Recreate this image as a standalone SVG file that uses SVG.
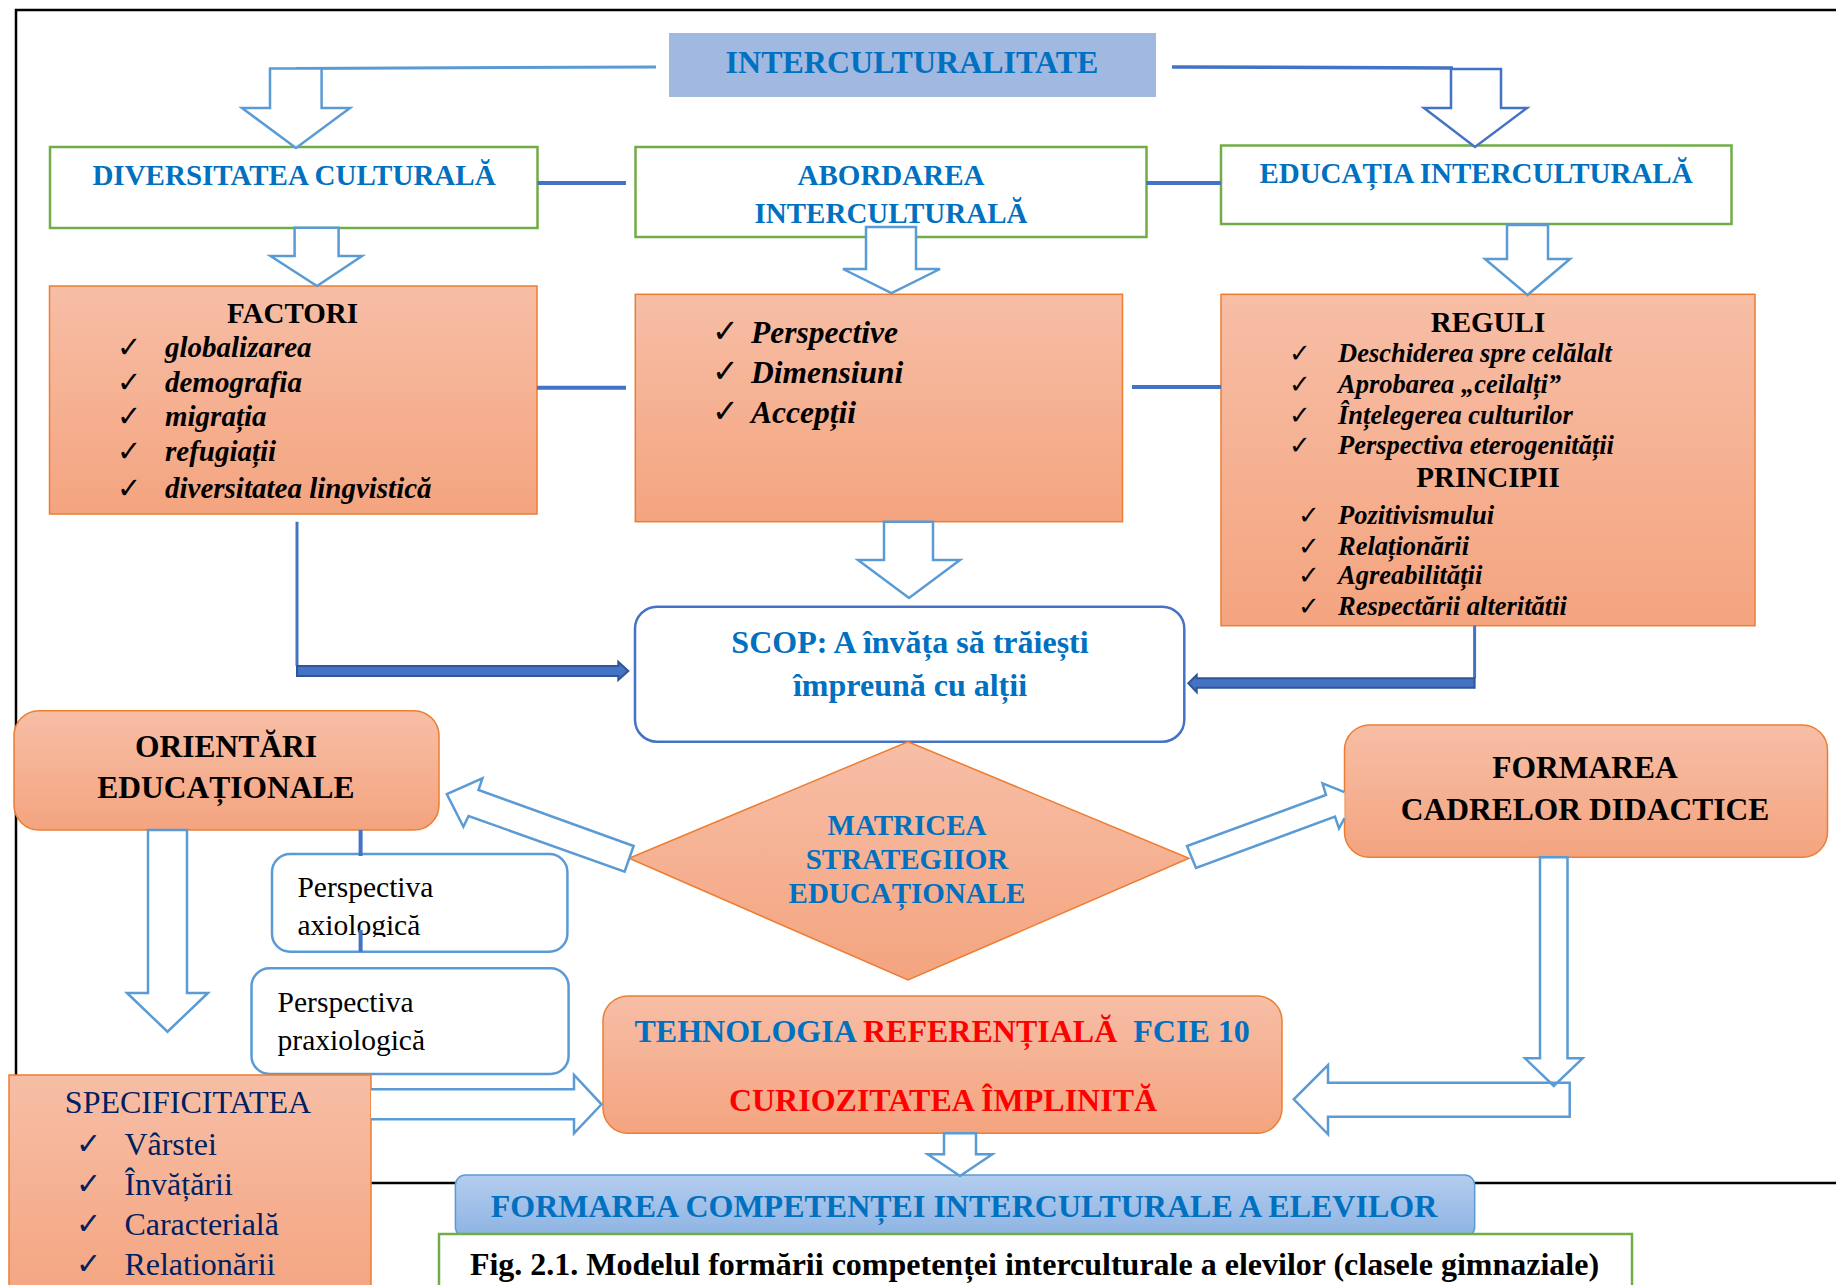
<svg xmlns="http://www.w3.org/2000/svg" width="1836" height="1285" viewBox="0 0 1836 1285">
<defs>
<linearGradient id="og" x1="0" y1="0" x2="0" y2="1">
<stop offset="0" stop-color="#F7BEA6"/>
<stop offset="1" stop-color="#F4A47F"/>
</linearGradient>
<linearGradient id="bg" x1="0" y1="0" x2="0" y2="1">
<stop offset="0" stop-color="#B4CDEF"/>
<stop offset="1" stop-color="#8DB3E2"/>
</linearGradient>
<clipPath id="clipReg"><rect x="1221" y="294" width="534" height="322"/></clipPath>
<clipPath id="clipAx"><rect x="272" y="854" width="296" height="83"/></clipPath>
<style>
text{font-family:"Liberation Serif","Times New Roman",serif;}
.bb{font-weight:bold;fill:#0070C0;}
.bk{font-weight:bold;fill:#000;}
.bi{font-weight:bold;font-style:italic;fill:#000;}
.rg{fill:#000;}
.nv{fill:#002060;}
.ck{font-family:"DejaVu Sans",sans-serif;font-weight:bold;fill:#000;}
.ckn{font-family:"DejaVu Sans",sans-serif;font-weight:bold;fill:#002060;}
.mid{text-anchor:middle;}
.gbox{fill:#fff;stroke:#70AD47;stroke-width:2.5;}
.obox{fill:url(#og);stroke:#ED7D31;stroke-width:1.5;}
.pbox{fill:#fff;stroke:#5B9BD5;stroke-width:2.5;}
.ln{stroke:#4472C4;stroke-width:4;fill:none;}
.ln3{stroke:#4472C4;stroke-width:3;fill:none;}
.ba{fill:#fff;stroke:#5B9BD5;stroke-width:2.5;stroke-linejoin:miter;}
.bn{fill:none;stroke:#5B9BD5;stroke-width:2.5;}
.th{fill:#4472C4;stroke:#2F5597;stroke-width:2;}
</style>
</defs>

<rect x="16" y="10" width="1900" height="1173" fill="none" stroke="#000" stroke-width="2.5"/>

<g id="n-interculturalitate">
<rect x="669" y="33" width="487" height="64" fill="#A1B8E1"/>
<text class="bb mid" x="912" y="72.5" font-size="32">INTERCULTURALITATE</text>
</g>

<g id="n-diversitatea">
<rect class="gbox" x="50" y="147" width="487.5" height="81"/>
<text class="bb mid" x="294" y="185" font-size="29">DIVERSITATEA CULTURALĂ</text>
</g>

<g id="n-abordarea">
<rect class="gbox" x="635.5" y="147" width="511" height="90"/>
<text class="bb mid" x="891" y="185" font-size="29">ABORDAREA</text>
<text class="bb mid" x="891" y="222.5" font-size="29">INTERCULTURALĂ</text>
</g>

<g id="n-educatia">
<rect class="gbox" x="1221" y="145.5" width="510.5" height="78.5"/>
<text class="bb mid" x="1476" y="183" font-size="29">EDUCAȚIA INTERCULTURALĂ</text>
</g>

<g id="n-factori">
<rect class="obox" x="49.5" y="286" width="487.5" height="228"/>
<text class="bk mid" x="292.5" y="323" font-size="29">FACTORI</text>
<text class="ck" x="117" y="357" font-size="29">✓</text>
<text class="ck" x="117" y="391.5" font-size="29">✓</text>
<text class="ck" x="117" y="425.5" font-size="29">✓</text>
<text class="ck" x="117" y="461" font-size="29">✓</text>
<text class="ck" x="117" y="497.5" font-size="29">✓</text>
<text class="bi" x="165" y="357" font-size="29">globalizarea</text>
<text class="bi" x="165" y="391.5" font-size="29">demografia</text>
<text class="bi" x="165" y="425.5" font-size="29">migrația</text>
<text class="bi" x="165" y="461" font-size="29">refugiații</text>
<text class="bi" x="165" y="497.5" font-size="29">diversitatea lingvistică</text>
</g>

<g id="n-abordare-continut">
<rect class="obox" x="635.3" y="294.3" width="487.2" height="227.4"/>
<text class="ck" x="712" y="342" font-size="32">✓</text>
<text class="ck" x="712" y="381.5" font-size="32">✓</text>
<text class="ck" x="712" y="421.5" font-size="32">✓</text>
<text class="bi" x="751" y="343" font-size="31.5">Perspective</text>
<text class="bi" x="751" y="382.5" font-size="31.5">Dimensiuni</text>
<text class="bi" x="751" y="422.5" font-size="31.5">Accepții</text>
</g>

<g id="n-reguli">
<rect class="obox" x="1221" y="294.3" width="534" height="331.4"/>
<text class="bk mid" x="1488" y="331.5" font-size="29">REGULI</text>
<text class="ck" x="1289" y="361.5" font-size="26">✓</text>
<text class="ck" x="1289" y="393" font-size="26">✓</text>
<text class="ck" x="1289" y="424" font-size="26">✓</text>
<text class="ck" x="1289" y="454" font-size="26">✓</text>
<text class="bi" x="1338" y="361.5" font-size="26.5">Deschiderea spre celălalt</text>
<text class="bi" x="1338" y="393" font-size="26.5">Aprobarea „ceilalți”</text>
<text class="bi" x="1338" y="424" font-size="26.5">Înțelegerea culturilor</text>
<text class="bi" x="1338" y="454" font-size="26.5">Perspectiva eterogenității</text>
<text class="bk mid" x="1488" y="487.3" font-size="29">PRINCIPII</text>
<text class="ck" x="1298" y="524" font-size="26">✓</text>
<text class="ck" x="1298" y="555" font-size="26">✓</text>
<text class="ck" x="1298" y="584" font-size="26">✓</text>
<text class="ck" x="1298" y="615" font-size="26" clip-path="url(#clipReg)">✓</text>
<text class="bi" x="1338" y="524" font-size="26.5">Pozitivismului</text>
<text class="bi" x="1338" y="555" font-size="26.5">Relaționării</text>
<text class="bi" x="1338" y="584" font-size="26.5">Agreabilității</text>
<text class="bi" x="1338" y="615" font-size="26.5" clip-path="url(#clipReg)">Respectării alterității</text>
</g>

<g id="n-scop">
<rect x="635" y="606.7" width="549.3" height="135" rx="22" fill="#fff" stroke="#4472C4" stroke-width="2.5"/>
<text class="bb mid" x="910" y="653" font-size="32">SCOP: A învăța să trăiești</text>
<text class="bb mid" x="910" y="696" font-size="32">împreună cu alții</text>
</g>

<g id="n-orientari">
<rect class="obox" x="14" y="710.7" width="425" height="119.3" rx="25"/>
<text class="bk mid" x="226" y="756.7" font-size="31.5">ORIENTĂRI</text>
<text class="bk mid" x="226" y="798.3" font-size="31.5">EDUCAȚIONALE</text>
</g>

<g id="n-axiologica">
<rect class="pbox" x="272" y="854" width="295.4" height="97.7" rx="18"/>
<text class="rg" x="297.4" y="896.7" font-size="29.5">Perspectiva</text>
<text class="rg" x="297.4" y="935" font-size="29.5" clip-path="url(#clipAx)">axiologică</text>
</g>

<g id="n-praxiologica">
<rect class="pbox" x="251.5" y="968.3" width="317.1" height="105.7" rx="18"/>
<text class="rg" x="277.6" y="1011.7" font-size="29.5">Perspectiva</text>
<text class="rg" x="277.6" y="1050" font-size="29.5">praxiologică</text>
</g>

<g id="n-matricea">
<polygon points="908,741.7 1189,858.3 908,980 629,858.3" fill="url(#og)" stroke="#ED7D31" stroke-width="1.5"/>
<text class="bb mid" x="907" y="835" font-size="29">MATRICEA</text>
<text class="bb mid" x="907" y="869.3" font-size="29">STRATEGIIOR</text>
<text class="bb mid" x="907" y="902.7" font-size="29">EDUCAȚIONALE</text>
</g>

<g id="n-formarea-cadrelor">
<rect class="obox" x="1344.5" y="725" width="483" height="132.3" rx="25"/>
<text class="bk mid" x="1585" y="778.3" font-size="31.5">FORMAREA</text>
<text class="bk mid" x="1585" y="820" font-size="31.5">CADRELOR DIDACTICE</text>
</g>

<g id="n-tehnologia">
<rect class="obox" x="603" y="996" width="679" height="137.3" rx="25"/>
<text x="634.5" y="1041.7" font-size="32" font-weight="bold" xml:space="preserve" style="white-space:pre"><tspan fill="#0070C0">TEHNOLOGIA </tspan><tspan fill="#FF0000">REFERENȚIALĂ</tspan><tspan fill="#0070C0">  FCIE 10</tspan></text>
<text class="mid" x="943" y="1110.7" font-size="32" font-weight="bold" fill="#FF0000">CURIOZITATEA ÎMPLINITĂ</text>
</g>

<g id="n-specificitatea">
<rect class="obox" x="9" y="1075" width="362" height="230"/>
<text class="nv mid" x="188" y="1113.3" font-size="32">SPECIFICITATEA</text>
<text class="ckn" x="76" y="1154" font-size="30">✓</text>
<text class="ckn" x="76" y="1194" font-size="30">✓</text>
<text class="ckn" x="76" y="1234" font-size="30">✓</text>
<text class="ckn" x="76" y="1274" font-size="30">✓</text>
<text class="nv" x="124.4" y="1155" font-size="32">Vârstei</text>
<text class="nv" x="124.4" y="1195" font-size="32">Învățării</text>
<text class="nv" x="124.4" y="1235" font-size="32">Caracterială</text>
<text class="nv" x="124.4" y="1275" font-size="32">Relationării</text>
</g>

<g id="n-formarea-competentei">
<rect x="455.4" y="1175" width="1019.3" height="62" rx="10" fill="url(#bg)" stroke="#5B9BD5" stroke-width="1.5"/>
<text class="bb mid" x="964" y="1216.7" font-size="32">FORMAREA COMPETENȚEI INTERCULTURALE A ELEVILOR</text>
</g>

<g id="n-caption">
<rect x="439" y="1234" width="1193" height="80" fill="#fff" stroke="#70AD47" stroke-width="2.5"/>
<text class="bk mid" x="1034.5" y="1275" font-size="32">Fig. 2.1. Modelul formării competenței interculturale a elevilor (clasele gimnaziale)</text>
</g>

<g id="connectors">
<line x1="656" y1="67" x2="296" y2="68.5" stroke="#5B9BD5" stroke-width="3"/>
<line x1="1172" y1="67" x2="1453" y2="68" stroke="#4472C4" stroke-width="3.5"/>
<polygon class="ba" points="270,68.5 321.6,68.5 321.6,108 350,108 296,148 242,108 270,108"/>
<polygon class="ba" style="stroke:#4472C4" points="1451,69 1501,69 1501,108 1527,108 1475,147 1424,108 1451,108"/>
<line class="ln" x1="537.5" y1="183" x2="626" y2="183"/>
<line class="ln" x1="1146.5" y1="183" x2="1221" y2="183"/>
<polygon class="ba" points="294.6,227.7 338.6,227.7 338.6,256 362,256 317,286 270.5,256 294.6,256"/>
<polygon class="ba" points="866,227 916,227 916,269 940,269 891.5,293 843,269 866,269"/>
<polygon class="ba" points="1507,225 1548,225 1548,259 1570,259 1527.5,295 1485,259 1507,259"/>
<line class="ln" x1="537" y1="387.7" x2="626" y2="387.7"/>
<line class="ln" x1="1132" y1="387" x2="1221" y2="387"/>
<polygon class="ba" points="884,521.7 933,521.7 933,560 960,560 909,598 858,560 884,560"/>
<line class="ln3" x1="297" y1="521.7" x2="297" y2="666"/>
<polygon class="th" points="297,666 618.3,666 618.3,661.7 628.3,671 618.3,680 618.3,676 297,676"/>
<line class="ln3" x1="1474.6" y1="625.7" x2="1474.6" y2="678.3"/>
<polygon class="th" points="1474.6,678.3 1196.7,678.3 1196.7,675 1188.3,683.3 1196.7,692.3 1196.7,687.7 1474.6,687.7"/>
<polygon class="ba" points="633.6,846 478.5,790 482.4,778.3 446.8,794 463.4,826.7 468.6,816 624.6,871.7"/>
<path class="ba" d="M1344.5,792.1 L1322.5,783.3 L1326,795 L1187,846 L1196,868 L1335,816.7 L1339,828.3 L1344.5,818.1"/>
<line class="ln" x1="360.6" y1="830" x2="360.6" y2="856"/>
<line class="ln" x1="360.6" y1="930" x2="360.6" y2="951.7"/>
<polygon class="ba" points="148,830 187,830 187,993 208,993 167.5,1031.7 127,993 148,993"/>
<polygon class="bn" points="1540,857.3 1567.5,857.3 1567.5,1058.3 1582.6,1058.3 1553.8,1086 1525,1058.3 1540,1058.3"/>
<polygon class="bn" points="1569.7,1082.7 1328,1082.7 1328,1065 1293.8,1099.3 1328,1134.3 1328,1116.7 1569.7,1116.7"/>
<path class="ba" d="M371,1089.3 H574 V1075 L601.5,1104.3 L574,1133.3 V1119.3 H371"/>
<polygon class="ba" points="944,1133.3 976,1133.3 976,1154.3 992.3,1154.3 960,1176 927.7,1154.3 944,1154.3"/>
</g>
</svg>
